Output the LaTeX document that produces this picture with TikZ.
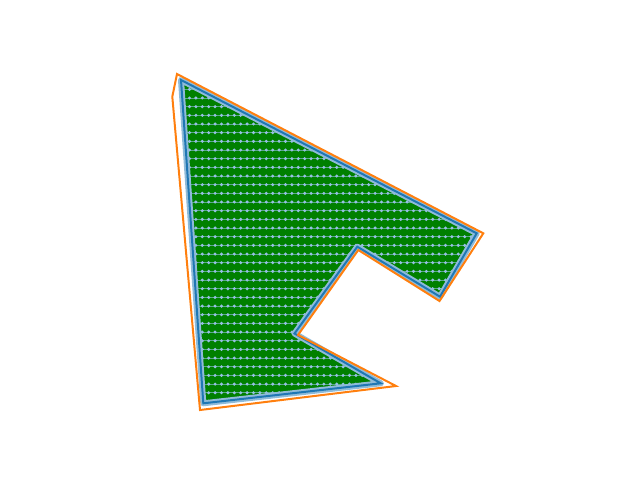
\documentclass[tikz,border=0pt]{standalone}
\usetikzlibrary{calc}
\definecolor{tabblue}{HTML}{1F77B4}
\definecolor{taborange}{HTML}{FF7F0E}
\definecolor{mplgreen}{HTML}{008000}
\definecolor{dotblue}{RGB}{150,192,228}

\begin{document}
\begin{tikzpicture}[x=1pt,y=-1pt,
    outline/.style={draw=taborange,line width=2pt,line join=miter},
    inset/.style={draw=tabblue,line width=2pt,line join=miter},
    band/.style={draw=tabblue!50,line width=6pt,line join=round},
    sample/.style={fill=dotblue},
    sweep/.style={draw=dotblue!60!mplgreen,line width=0.8pt},
]
\useasboundingbox (0,0) rectangle (640,480);

% outer boundary
\coordinate (o1) at (177,74);
\coordinate (o2) at (172.3,96.7);
\coordinate (o3) at (200,410);
\coordinate (o4) at (396,386);
\coordinate (o5) at (298,335);
\coordinate (o6) at (358.3,250);
\coordinate (o7) at (439.5,301);
\coordinate (o8) at (483.3,233.3);

% offset boundary
\coordinate (i1) at (181,80);
\coordinate (i2) at (203.3,403.3);
\coordinate (i3) at (380.7,383.3);
\coordinate (i4) at (294.5,333.5);
\coordinate (i5) at (357.3,246.7);
\coordinate (i6) at (440,296.7);
\coordinate (i7) at (476.7,233.3);

% coverage fill
\fill[mplgreen] (i1) -- (i2) -- (i3) -- (i4) -- (i5) -- (i6) -- (i7) -- cycle;

% sweep rows and sample points
\begin{scope}
\clip (i1) -- (i2) -- (i3) -- (i4) -- (i5) -- (i6) -- (i7) -- cycle;
\foreach \r in {0,...,37}{
  \draw[sweep] (170,{80.65+8.67*\r}) -- (490,{80.65+8.67*\r});
  \foreach \c in {0,...,46}
    \fill[sample] ({183.1+6.4*\c},{80.65+8.67*\r}) circle (1.7);
}
\end{scope}

\draw[band] (i1) -- (i2) -- (i3) -- (i4) -- (i5) -- (i6) -- (i7) -- cycle;
\draw[inset] (i1) -- (i2) -- (i3) -- (i4) -- (i5) -- (i6) -- (i7) -- cycle;
\draw[outline] (o1) -- (o2) -- (o3) -- (o4) -- (o5) -- (o6) -- (o7) -- (o8) -- cycle;
\end{tikzpicture}
\end{document}
